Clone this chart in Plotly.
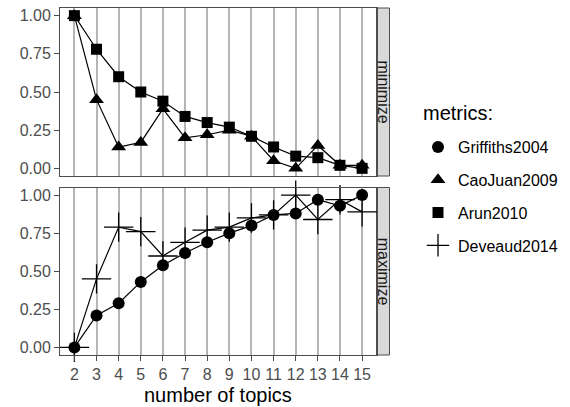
import plotly.graph_objects as go

topics = list(range(2, 16))
griffiths2004 = [0.00, 0.21, 0.29, 0.43, 0.54, 0.62, 0.69, 0.75, 0.80, 0.87, 0.88, 0.97, 0.93, 1.00]
caojuan2009 = [1.00, 0.45, 0.14, 0.17, 0.39, 0.20, 0.22, 0.25, 0.21, 0.05, 0.00, 0.15, 0.02, 0.02]
arun2010 = [1.00, 0.78, 0.60, 0.50, 0.44, 0.34, 0.30, 0.27, 0.21, 0.14, 0.08, 0.07, 0.02, 0.00]
deveaud2014 = [0.00, 0.45, 0.79, 0.76, 0.60, 0.69, 0.77, 0.79, 0.85, 0.87, 1.00, 0.84, 0.97, 0.89]
y_ticks = [0, 0.25, 0.5, 0.75, 1.0]
y_tick_labels = ["0.00", "0.25", "0.50", "0.75", "1.00"]
panel_labels = ["minimize", "maximize"]

W, H = 570, 407
FONT = "Liberation Sans, Arial, sans-serif"

def px_x(p):
    return p / W

def px_y(p):
    return 1 - p / H

x_dom = [px_x(60), px_x(376.5)]
top_dom = [px_y(176), px_y(8)]
bot_dom = [px_y(355), px_y(187.5)]

fig = go.Figure()

series = [
    ("Griffiths2004", griffiths2004, "circle", 12, "y2"),
    ("CaoJuan2009", caojuan2009, "triangle-up", 13, "y"),
    ("Arun2010", arun2010, "square", 11, "y"),
    ("Deveaud2014", deveaud2014, "cross-thin", 21, "y2"),
]

for name, vals, sym, size, yax in series:
    xa = "x" if yax == "y" else "x2"
    marker = dict(symbol=sym, size=size, color="black",
                  line=dict(color="black", width=1.3 if sym == "cross-thin" else 0))
    fig.add_trace(go.Scatter(x=topics, y=vals, mode="lines+markers", xaxis=xa, yaxis=yax,
                             line=dict(color="black", width=1.2), marker=marker,
                             showlegend=False, cliponaxis=False))

for i, (name, vals, sym, size, yax) in enumerate(series):
    marker = dict(symbol=sym, size=size, color="black",
                  line=dict(color="black", width=1.3 if sym == "cross-thin" else 0))
    fig.add_trace(go.Scatter(x=[None], y=[None], mode="markers", name=name, marker=marker,
                             legendgroup="g%d" % i, showlegend=True))

axis_common = dict(range=[1.35, 15.65], tickvals=topics, ticktext=[str(t) for t in topics],
                   showgrid=True, gridcolor="#b5b5b5", gridwidth=1.6, zeroline=False,
                   showline=True, mirror=True, linecolor="#4d4d4d", linewidth=1,
                   domain=x_dom, automargin=False,
                   tickfont=dict(family=FONT, size=16, color="#4d4d4d"))
yaxis_common = dict(range=[-0.05, 1.05], tickvals=y_ticks, ticktext=y_tick_labels,
                    showgrid=False, zeroline=False, showline=True, mirror=True,
                    linecolor="#4d4d4d", linewidth=1, ticks="outside", ticklen=5,
                    tickcolor="#4d4d4d", tickwidth=1, automargin=False,
                    tickfont=dict(family=FONT, size=16, color="#4d4d4d"))

fig.update_layout(
    width=W, height=H, margin=dict(l=0, r=0, t=0, b=0, autoexpand=False),
    plot_bgcolor="white", paper_bgcolor="white",
    font=dict(family=FONT, color="black"),
    xaxis=dict(axis_common, anchor="y", showticklabels=False, ticks=""),
    yaxis=dict(yaxis_common, domain=top_dom, anchor="x"),
    xaxis2=dict(axis_common, anchor="y2", ticks="outside", ticklen=5, tickcolor="#4d4d4d"),
    yaxis2=dict(yaxis_common, domain=bot_dom, anchor="x2"),
    legend=dict(x=px_x(418), y=px_y(130), xanchor="left", yanchor="top",
                font=dict(family=FONT, size=16, color="black"),
                tracegroupgap=9, traceorder="grouped", bgcolor="rgba(0,0,0,0)"),
)

fig.add_annotation(text="metrics:", xref="paper", yref="paper", x=px_x(421), y=px_y(113),
                   xanchor="left", yanchor="middle", showarrow=False,
                   font=dict(family=FONT, size=20, color="black"))
fig.add_annotation(text="number of topics", xref="paper", yref="paper",
                   x=(x_dom[0] + x_dom[1]) / 2, y=px_y(395), xanchor="center", yanchor="middle",
                   showarrow=False, font=dict(family=FONT, size=20, color="black"))

for dom, label in zip([top_dom, bot_dom], panel_labels):
    fig.add_shape(type="rect", xref="paper", yref="paper",
                  x0=px_x(376.5), x1=px_x(389.5), y0=dom[0], y1=dom[1],
                  fillcolor="#d9d9d9", line=dict(color="#4d4d4d", width=1), layer="below")
    fig.add_annotation(text=label, xref="paper", yref="paper", x=px_x(383.5), y=(dom[0] + dom[1]) / 2,
                       xanchor="center", yanchor="middle",
                       textangle=90, showarrow=False, font=dict(family=FONT, size=16, color="#1a1a1a"))

fig.write_html("out.html", config={"displayModeBar": False},
               post_script="document.body.style.margin='0';document.body.style.padding='0';"
                           "document.documentElement.style.overflow='hidden';")
